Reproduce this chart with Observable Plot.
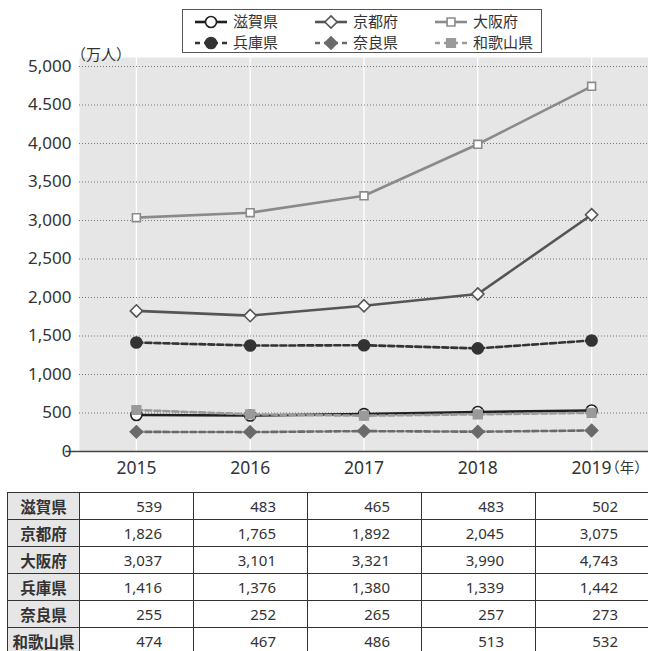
<!DOCTYPE html>
<html><head><meta charset="utf-8">
<script src="https://cdn.jsdelivr.net/npm/d3@7"></script>
<script src="https://cdn.jsdelivr.net/npm/@observablehq/plot@0.6"></script>
<style>
body{margin:0;background:#fff;}
#wrap{position:relative;width:648px;height:651px;overflow:hidden;font-family:"Noto Sans","Noto Sans CJK JP",sans-serif;color:#333;}
#chart{position:absolute;left:0;top:0;}
#chart svg text{font-feature-settings:"halt";}
#legend{position:absolute;left:182px;top:9px;width:360px;height:44px;border:1px solid #555;box-sizing:border-box;background:#fff;}
.li{position:absolute;display:flex;align-items:center;height:17px;line-height:17px;font-family:"Noto Sans","Noto Sans CJK JP",sans-serif;font-size:15px;color:#333;}
.li svg{margin-right:6px;}
#tbl{position:absolute;left:7px;top:492px;border-collapse:collapse;table-layout:fixed;width:642px;}
#tbl td{border:1.5px solid #333;height:27px;padding:0;box-sizing:border-box;font-size:15px;font-family:"Noto Sans","Noto Sans CJK JP",sans-serif;color:#333;line-height:24px;}
#tbl td.lab{background:#e6e6e6;text-align:center;font-weight:bold;font-family:"Noto Sans CJK JP",sans-serif;font-size:15.5px;}
#tbl td.num{text-align:right;padding-right:31px;}
</style></head>
<body><div id="wrap"><div id="chart"></div><div id="legend"></div><table id="tbl"></table></div>
<script>
// ---- data ----
const years = [2015, 2016, 2017, 2018, 2019];
const xTickLabels = ["2015", "2016", "2017", "2018", "2019"];
const yTicks = [0, 500, 1000, 1500, 2000, 2500, 3000, 3500, 4000, 4500, 5000];
const yTickLabels = ["0", "500", "1,000", "1,500", "2,000", "2,500", "3,000", "3,500", "4,000", "4.500", "5,000"];
const prefectures = ["滋賀県", "京都府", "大阪府", "兵庫県", "奈良県", "和歌山県"];

// values printed in the table
const tableShiga    = [539, 483, 465, 483, 502];
const tableKyoto    = [1826, 1765, 1892, 2045, 3075];
const tableOsaka    = [3037, 3101, 3321, 3990, 4743];
const tableHyogo    = [1416, 1376, 1380, 1339, 1442];
const tableNara     = [255, 252, 265, 257, 273];
const tableWakayama = [474, 467, 486, 513, 532];

// values as drawn in the chart
const lineShiga    = [474, 467, 486, 513, 532];
const lineKyoto    = [1826, 1765, 1892, 2045, 3075];
const lineOsaka    = [3037, 3101, 3321, 3990, 4743];
const lineHyogo    = [1416, 1376, 1380, 1339, 1442];
const lineNara     = [255, 252, 265, 257, 273];
const lineWakayama = [539, 483, 465, 483, 502];

const lineValues = [lineShiga, lineKyoto, lineOsaka, lineHyogo, lineNara, lineWakayama];
const tableValues = [tableShiga, tableKyoto, tableOsaka, tableHyogo, tableNara, tableWakayama];

// styles
const styles = [
  {stroke:"#1e1e1e", dash:null,  symbol:"circle",   fill:"#fff",    mstroke:"#1e1e1e", r:5.5},
  {stroke:"#555",    dash:null,  symbol:"diamond2", fill:"#fff",    mstroke:"#555",    r:5.5},
  {stroke:"#8a8a8a", dash:null,  symbol:"square2",  fill:"#fff",    mstroke:"#8a8a8a", r:5},
  {stroke:"#333",    dash:"6,3", symbol:"circle",   fill:"#333",    mstroke:"#333",    r:5.5},
  {stroke:"#6a6a6a", dash:"6,3", symbol:"diamond2", fill:"#6a6a6a", mstroke:"#6a6a6a", r:5.5},
  {stroke:"#9a9a9a", dash:"6,3", symbol:"square2",  fill:"#9a9a9a", mstroke:"#9a9a9a", r:5.5}
];

const font = '"Noto Sans","Noto Sans CJK JP",sans-serif';

const seriesMarks = [];
prefectures.forEach((p, i) => {
  const data = years.map((y, j) => ({year: y, value: lineValues[i][j]}));
  const s = styles[i];
  seriesMarks.push(Plot.line(data, {x:"year", y:"value", stroke:s.stroke, strokeWidth:2.6, strokeDasharray:s.dash || undefined}));
  seriesMarks.push(Plot.dot(data, {x:"year", y:"value", symbol:()=>s.symbol, r:s.r, fill:s.fill, stroke:s.mstroke, strokeWidth:1.6}));
});

const chart = Plot.plot({
  width: 648, height: 480,
  marginTop: 57, marginBottom: 29, marginLeft: 79, marginRight: 0,
  x: {type:"linear", domain:[2014.5, 2019.5], axis:null},
  y: {domain:[0, 5117], axis:null},
  symbol: {type:"identity"},
  style: {fontFamily: font, background:"transparent", overflow:"visible", color:"#333"},
  marks: [
    Plot.frame({fill:"#e6e6e6", stroke:null}),
    Plot.ruleX(years, {stroke:"#fff", strokeWidth:1.3}),
    Plot.ruleY(yTicks.filter(d => d > 0), {stroke:"#777", strokeDasharray:"1,2", strokeWidth:1}),
    Plot.ruleY([0], {x1: 2014.5 - 0.12, x2: 2019.5, stroke:"#444", strokeWidth:1.5}),
    Plot.text(yTicks, {frameAnchor:"left", y:d => d, text:(d, i) => yTickLabels[i], textAnchor:"end", dx:-8, fontSize:17, fill:"#333"}),
    Plot.text(years, {x:d => d, y:0, text:(d, i) => xTickLabels[i], dy:17, fontSize:17.5, fill:"#333"}),
    Plot.text(["（年）"], {x:years[years.length - 1], y:0, dx:21, dy:17, textAnchor:"start", fontSize:14.5, fill:"#333", fontFamily:'"Noto Sans CJK JP",sans-serif'}),
    Plot.text(["（万人）"], {frameAnchor:"top-left", dx:-1, dy:-8, textAnchor:"start", fontSize:15, fill:"#333", fontFamily:'"Noto Sans CJK JP",sans-serif'}),
    ...seriesMarks
  ]
});
document.getElementById("chart").appendChild(chart);

// ---- legend ----
const legend = d3.select("#legend");
const colX = [12, 132, 252];
const rowY = [3, 24];
prefectures.forEach((p, i) => {
  const s = styles[i];
  const item = legend.append("div").attr("class", "li")
    .style("left", colX[i % 3] + "px").style("top", rowY[Math.floor(i / 3)] + "px");
  const svg = item.append("svg").attr("width", 32).attr("height", 14);
  svg.append("line").attr("x1", 0).attr("x2", 32).attr("y1", 7).attr("y2", 7)
    .attr("stroke", s.stroke).attr("stroke-width", 2.6).attr("stroke-dasharray", s.dash ? "5,4" : null);
  const symMap = {circle: d3.symbolCircle, diamond2: d3.symbolDiamond2, square2: d3.symbolSquare2};
  svg.append("path").attr("transform", "translate(16,7)")
    .attr("d", d3.symbol(symMap[s.symbol], Math.PI * s.r * s.r)())
    .attr("fill", s.fill).attr("stroke", s.mstroke).attr("stroke-width", 1.6);
  item.append("span").text(p);
});

// ---- table ----
const tbl = d3.select("#tbl");
const cg = tbl.append("colgroup");
cg.append("col").style("width", "72px");
years.forEach(() => cg.append("col").style("width", "114px"));
prefectures.forEach((p, i) => {
  const tr = tbl.append("tr");
  tr.append("td").attr("class", "lab").text(p);
  tableValues[i].forEach(v => tr.append("td").attr("class", "num").text(d3.format(",")(v)));
});
</script>
</body></html>
